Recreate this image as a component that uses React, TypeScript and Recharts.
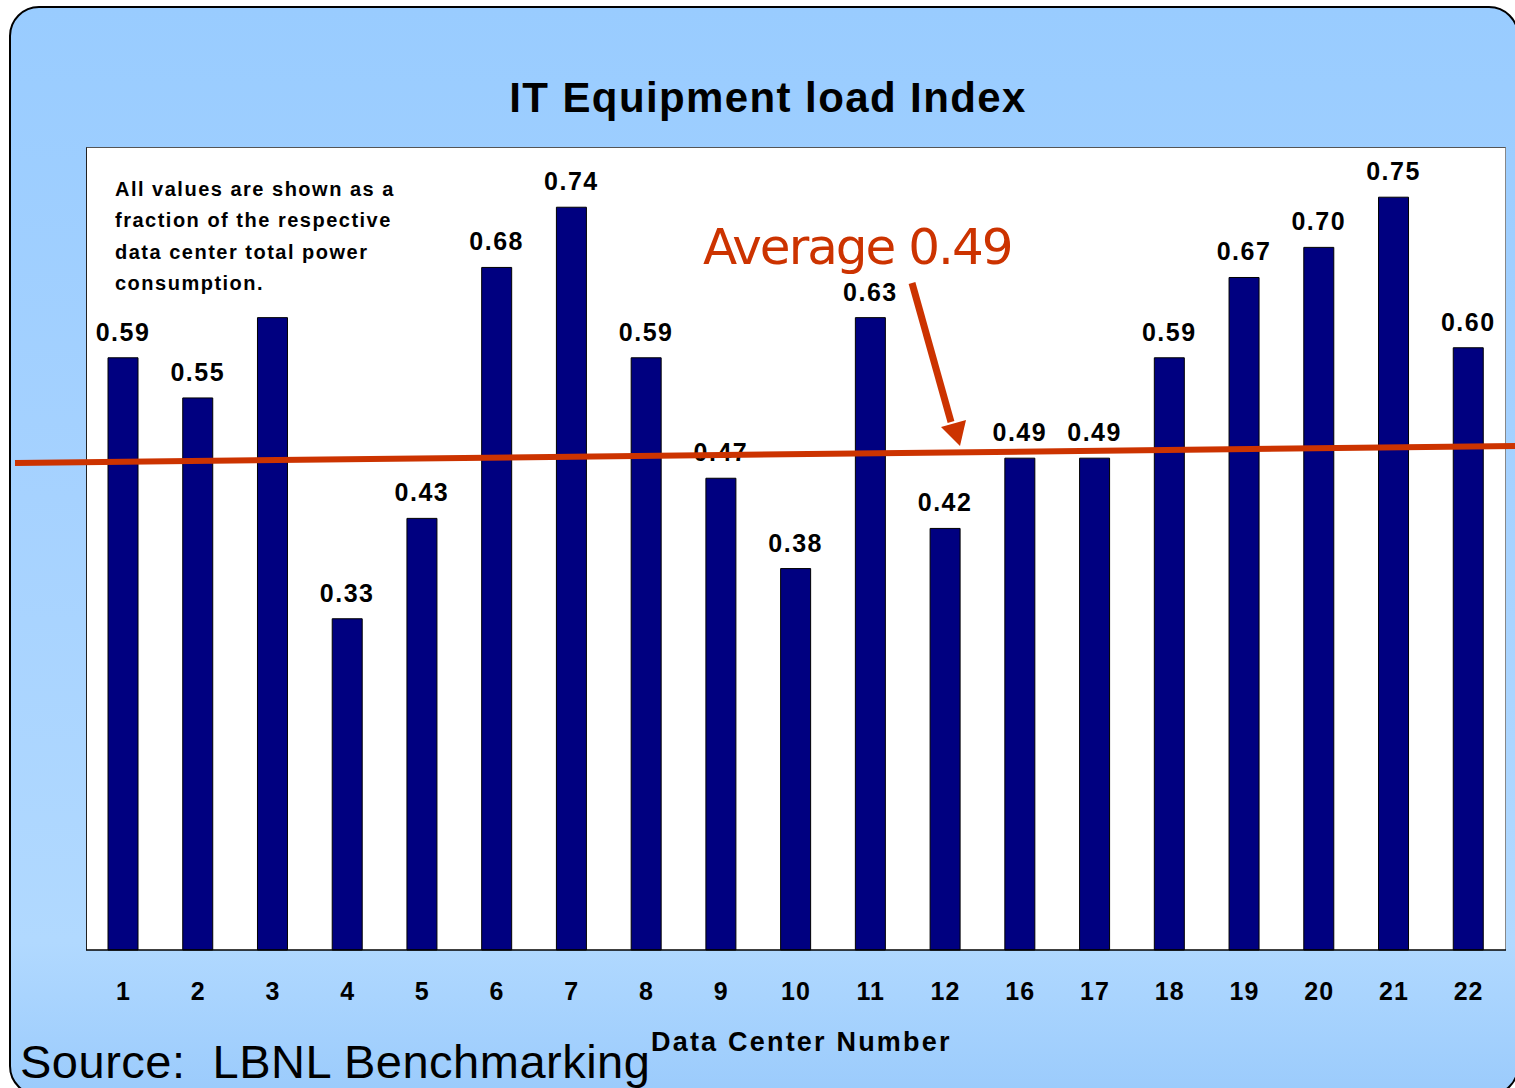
import React from "react";
import { BarChart, Bar, XAxis, YAxis, LabelList } from "recharts";

const categories = ["1", "2", "3", "4", "5", "6", "7", "8", "9", "10", "11", "12", "16", "17", "18", "19", "20", "21", "22"];
const values = [0.59, 0.55, 0.63, 0.33, 0.43, 0.68, 0.74, 0.59, 0.47, 0.38, 0.63, 0.42, 0.49, 0.49, 0.59, 0.67, 0.70, 0.75, 0.60];
const showLabel = [true, true, false, true, true, true, true, true, true, true, true, true, true, true, true, true, true, true, true];
const yDomain = [0, 0.8];

const data = categories.map((c, i) => ({
  name: c,
  value: values[i],
  label: showLabel[i] ? values[i].toFixed(2) : "",
}));

const ARIAL = "'Liberation Sans', Arial, sans-serif";
const RED = "#CC3300";

export default function App() {
  return (
    <div style={{ position: "absolute", left: 0, top: 0, width: 1515, height: 1088, overflow: "hidden", background: "#ffffff" }}>
      <div
        style={{
          position: "absolute",
          left: 9,
          top: 6,
          width: 1510,
          height: 1090,
          boxSizing: "border-box",
          border: "2px solid #000",
          borderRadius: 30,
          background: "linear-gradient(to bottom, #99CCFF 0%, #A6D2FF 45%, #B1D9FF 86%, #9BCBFC 100%)",
        }}
      />
      <div
        style={{
          position: "absolute",
          left: 86,
          top: 147,
          width: 1420,
          height: 803,
          boxSizing: "border-box",
          background: "#fff",
          borderTop: "1px solid #555",
          borderRight: "1px solid #888",
          borderLeft: "1px solid #222",
        }}
      />
      <div style={{ position: "absolute", left: -1, top: 0 }}>
        <BarChart
          width={1515}
          height={1088}
          data={data}
          margin={{ top: 147, right: 8, left: 87, bottom: 78 }}
          barCategoryGap={0}
        >
          <YAxis hide domain={yDomain} type="number" width={0} />
          <XAxis
            dataKey="name"
            height={60}
            axisLine={{ stroke: "#000", strokeWidth: 1.5 }}
            tickLine={false}
            tickSize={0}
            tickMargin={32}
            interval={0}
            tick={{ fill: "#000", fontFamily: ARIAL, fontWeight: 700, fontSize: 25, letterSpacing: 1 }}
          />
          <Bar dataKey="value" fill="#000080" stroke="#000" strokeWidth={1} barSize={30} isAnimationActive={false}>
            <LabelList
              dataKey="label"
              position="top"
              offset={17}
              style={{ fill: "#000", fontFamily: ARIAL, fontWeight: 700, fontSize: 25, letterSpacing: 1.5 }}
            />
          </Bar>
        </BarChart>
      </div>
      <svg
        width={1515}
        height={1088}
        style={{ position: "absolute", left: 0, top: 0, pointerEvents: "none" }}
      >
        <text x={768} y={112} textAnchor="middle" fontFamily={ARIAL} fontWeight={700} fontSize={42} letterSpacing={1.4} fill="#000">
          IT Equipment load Index
        </text>
        <g fontFamily={ARIAL} fontWeight={700} fontSize={20} letterSpacing={1.5} fill="#000">
          <text x={115} y={196}>All values are shown as a</text>
          <text x={115} y={227}>fraction of the respective</text>
          <text x={115} y={259}>data center total power</text>
          <text x={115} y={290}>consumption.</text>
        </g>
        <line x1={15} y1={463} x2={1515} y2={446} stroke={RED} strokeWidth={6} />
        <line x1={912} y1={283} x2={951} y2={422} stroke={RED} strokeWidth={7} />
        <polygon points="941,427 966,420 960,446" fill={RED} />
        <text x={703} y={264} fontFamily="'DejaVu Sans', Verdana, sans-serif" fontSize={50} letterSpacing={-2} fill={RED}>
          Average 0.49
        </text>
        <text x={651} y={1051} fontFamily={ARIAL} fontWeight={700} fontSize={27} letterSpacing={2.2} fill="#000">
          Data Center Number
        </text>
        <text x={20} y={1078} fontFamily={ARIAL} fontSize={47} letterSpacing={0.5} fill="#000" style={{ whiteSpace: "pre" }}>
          {"Source:  LBNL Benchmarking"}
        </text>
      </svg>
    </div>
  );
}
